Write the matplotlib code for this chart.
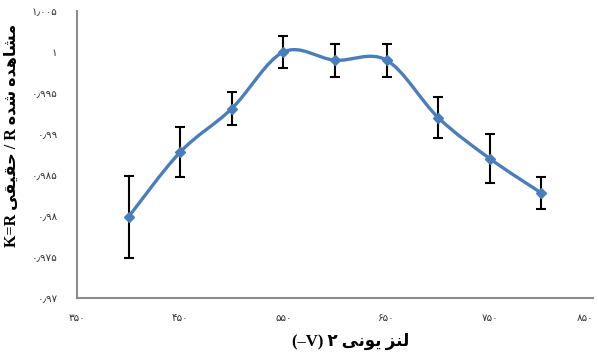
import matplotlib
matplotlib.use("Agg")
import matplotlib.pyplot as plt
from matplotlib.path import Path
from matplotlib.patches import PathPatch
from matplotlib.ticker import FuncFormatter, MultipleLocator
import numpy as np

# ---- data ----
voltage = [400, 450, 500, 550, 600, 650, 700, 750, 800]
ratio = [0.9799, 0.9878, 0.9931, 1.0000, 0.9990, 0.9990, 0.9920, 0.9870, 0.9828]
error = [0.0050, 0.0030, 0.0020, 0.0020, 0.0020, 0.0020, 0.0025, 0.0030, 0.0020]
x_ticks = [350, 450, 550, 650, 750, 850]

# ---- simple Persian shaping (presentation forms) ----
FORMS = {  # iso, fin, ini, med
    'ا': ('\uFE8D', '\uFE8E', None, None),
    'د': ('\uFEA9', '\uFEAA', None, None),
    'ز': ('\uFEAF', '\uFEB0', None, None),
    'و': ('\uFEED', '\uFEEE', None, None),
    'م': ('\uFEE1', '\uFEE2', '\uFEE3', '\uFEE4'),
    'ش': ('\uFEB5', '\uFEB6', '\uFEB7', '\uFEB8'),
    'ه': ('\uFEE9', '\uFEEA', '\uFEEB', '\uFEEC'),
    'ح': ('\uFEA1', '\uFEA2', '\uFEA3', '\uFEA4'),
    'ق': ('\uFED5', '\uFED6', '\uFED7', '\uFED8'),
    'ی': ('\uFEEF', '\uFEF0', '\uFEF3', '\uFEF4'),
    'ن': ('\uFEE5', '\uFEE6', '\uFEE7', '\uFEE8'),
    'ل': ('\uFEDD', '\uFEDE', '\uFEDF', '\uFEE0'),
}


def shape_word(w):
    out = []
    for i, c in enumerate(w):
        f = FORMS[c]
        prev_joins = i > 0 and FORMS[w[i - 1]][2] is not None
        next_ok = i < len(w) - 1 and f[2] is not None
        if prev_joins and next_ok:
            out.append(f[3])
        elif prev_joins:
            out.append(f[1])
        elif next_ok:
            out.append(f[2])
        else:
            out.append(f[0])
    return ''.join(reversed(out))


def vis_phrase(words):
    return ' '.join(shape_word(w) for w in reversed(words))


PDIG = str.maketrans('0123456789.', '۰۱۲۳۴۵۶۷۸۹\u066B')


def pfmt(v, pos=None):
    s = ('%.3f' % v).rstrip('0').rstrip('.')
    return s.translate(PDIG)


fig = plt.figure(figsize=(5.98, 3.61), dpi=100)
ax = fig.add_axes([77 / 598, 1 - 298 / 361, (593 - 77) / 598, (298 - 11) / 361])

col = '#4A7EBB'

# smoothed line (Bezier through the points, Excel-like)
P = np.column_stack([voltage, ratio])
n = len(P)
verts = [P[0]]
codes = [Path.MOVETO]
for i in range(n - 1):
    p0 = P[i - 1] if i > 0 else P[i]
    p1 = P[i]
    p2 = P[i + 1]
    p3 = P[i + 2] if i + 2 < n else P[i + 1]
    c1 = p1 + (p2 - p0) / 6.0
    c2 = p2 - (p3 - p1) / 6.0
    verts += [c1, c2, p2]
    codes += [Path.CURVE4] * 3
ax.add_patch(PathPatch(Path(verts, codes), fill=False, edgecolor=col, lw=2.4,
                       capstyle='round', joinstyle='round', zorder=2))

ax.errorbar(voltage, ratio, yerr=error, fmt='D', color=col, ms=5.5,
            ecolor='black', elinewidth=1.5, capsize=3.5, capthick=1.5,
            zorder=3)

ax.set_xlim(350, 850)
ax.set_ylim(0.97, 1.005)
ax.set_xticks(x_ticks)
ax.yaxis.set_major_locator(MultipleLocator(0.005))
ax.xaxis.set_major_formatter(FuncFormatter(lambda v, p: ('%d' % round(v)).translate(PDIG)))
ax.yaxis.set_major_formatter(FuncFormatter(pfmt))
ax.tick_params(length=0, labelsize=7.5, colors='#333333')
ax.tick_params(axis='x', pad=11)
ax.tick_params(axis='y', pad=14)
for lab in ax.get_xticklabels() + ax.get_yticklabels():
    lab.set_family('DejaVu Sans')
xl = ax.get_xticklabels()
xl[-1].set_horizontalalignment('right')

for s in ['top', 'right']:
    ax.spines[s].set_visible(False)
for s in ['left', 'bottom']:
    ax.spines[s].set_color('#8c8c8c')
    ax.spines[s].set_linewidth(1.5)

fam = ['Liberation Serif', 'DejaVu Sans']
ylab = 'K=R ' + vis_phrase(['حقیقی']) + ' / R ' + vis_phrase(['مشاهده', 'شده'])
xlab = '(\u2013V) ۲ ' + vis_phrase(['لنز', 'یونی'])
ax.set_ylabel(ylab, family=fam, fontweight='bold', fontsize=11.5)
ax.yaxis.set_label_coords(-0.11, 0.565)
ax.set_xlabel(xlab, family=fam, fontweight='bold', fontsize=12)
ax.xaxis.set_label_coords(0.53, -0.122)

fig.savefig('out.png', dpi=100)
